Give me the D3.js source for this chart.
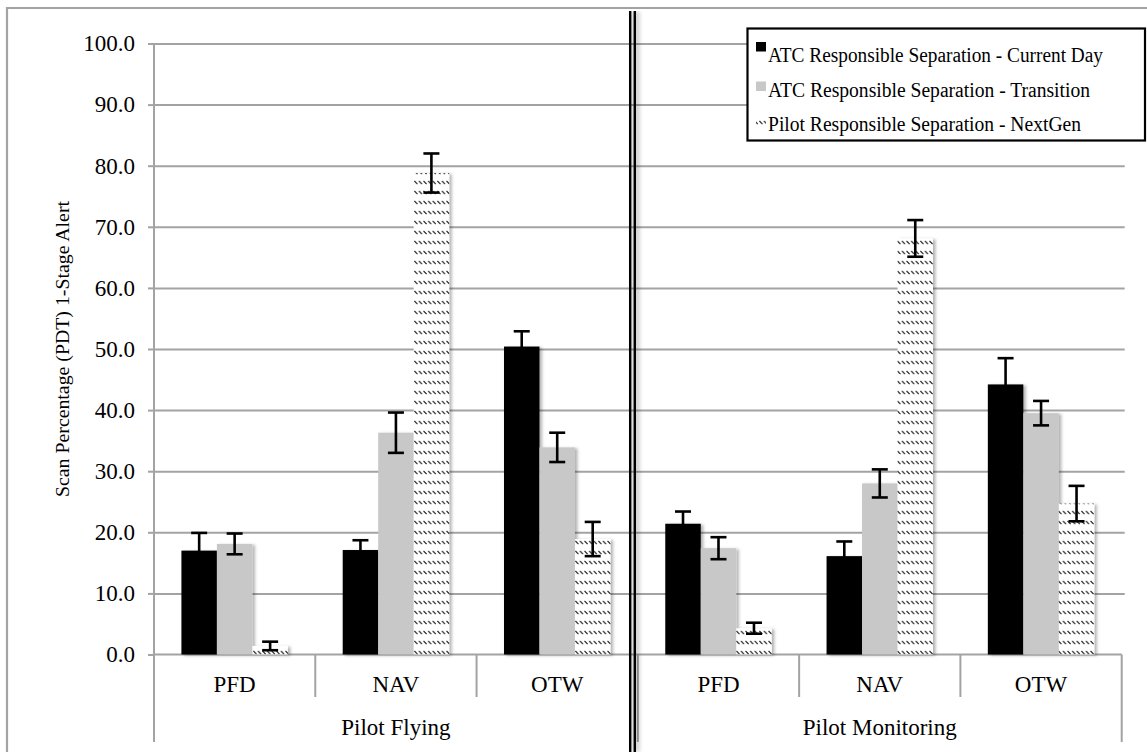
<!DOCTYPE html>
<html>
<head>
<meta charset="utf-8">
<script src="https://cdn.jsdelivr.net/npm/d3@7/dist/d3.min.js"></script>
<style>
  html, body { margin: 0; padding: 0; background: #fff; }
  svg { display: block; }
  svg text { font-family: "Liberation Serif", Tinos, "Times New Roman", "DejaVu Serif", serif !important; fill: #000; }
</style>
</head>
<body>
<svg id="chart" width="1147" height="752" font-family="Liberation Serif, Times New Roman, serif"></svg>
<script>
// Scan percentage per display, by crew role and separation condition
const groups = ["Pilot Flying", "Pilot Monitoring"];
const displays = ["PFD", "NAV", "OTW"];
const seriesNames = [
  "ATC Responsible Separation - Current Day",
  "ATC Responsible Separation - Transition",
  "Pilot Responsible Separation - NextGen"
];
// values in order: PF-PFD, PF-NAV, PF-OTW, PM-PFD, PM-NAV, PM-OTW
const currentDay    = [17.0, 17.1, 50.4, 21.4, 16.1, 44.2];
const transition    = [18.1, 36.3, 33.9, 17.4, 28.0, 39.5];
const nextGen       = [1.4, 78.8, 18.9, 4.3, 68.1, 24.7];
const currentDayErr = [2.9, 1.6, 2.5, 2.0, 2.4, 4.3];
const transitionErr = [1.7, 3.3, 2.4, 1.8, 2.3, 2.0];
const nextGenErr    = [0.7, 3.2, 2.8, 0.9, 3.0, 2.9];
const yTicks = [0, 10, 20, 30, 40, 50, 60, 70, 80, 90, 100];
const yTitle = "Scan Percentage (PDT) 1-Stage Alert";

const seriesValues = [currentDay, transition, nextGen];
const seriesErrors = [currentDayErr, transitionErr, nextGenErr];
const seriesKeys = ["cd", "tr", "ng"];
const serif = "Liberation Serif, Tinos, Times New Roman, serif";

const cells = [];
groups.forEach((g, gi) => displays.forEach((d, di) => cells.push({ group: g, display: d, key: gi + "-" + d })));

const svg = d3.select("#chart");
const defs = svg.append("defs");

// hatch fill: rows of short backslash dashes
const pat = defs.append("pattern")
  .attr("id", "hatch").attr("patternUnits", "userSpaceOnUse")
  .attr("width", 4.6).attr("height", 10);
pat.append("rect").attr("width", 4.6).attr("height", 10).attr("fill", "#fff");
pat.append("line").attr("x1", 0.4).attr("y1", 1).attr("x2", 3.4).attr("y2", 4.2)
  .attr("stroke", "#222").attr("stroke-width", 1.1);

const shadow = defs.append("filter").attr("id", "shadow")
  .attr("x", "-20%").attr("y", "-5%").attr("width", "150%").attr("height", "115%");
shadow.append("feDropShadow").attr("dx", 2.5).attr("dy", 1).attr("stdDeviation", 1.6)
  .attr("flood-color", "#000").attr("flood-opacity", 0.3);

const lineShadow = defs.append("filter").attr("id", "lshadow")
  .attr("x", "-200%").attr("y", "0%").attr("width", "500%").attr("height", "100%");
lineShadow.append("feDropShadow").attr("dx", 3).attr("dy", 0).attr("stdDeviation", 2)
  .attr("flood-color", "#000").attr("flood-opacity", 0.3);

const left = 154, right = 1121.7, axisBottom = 742;
const x = d3.scaleBand().domain(cells.map(c => c.key)).range([left, right]).padding(0);
const bw = x.bandwidth();
const xs = d3.scaleBand().domain(seriesKeys).range([bw * 0.17, bw * 0.83]).padding(0);
const y = d3.scaleLinear().domain([0, 100]).range([654.5, 43.5]);

const grey = "#a3a3a3";

// outer frame
svg.append("path").attr("d", `M7,752 V8 H1147`).attr("fill", "none")
  .attr("stroke", grey).attr("stroke-width", 2.2);

// gridlines
svg.append("g").attr("class", "grid")
  .attr("transform", `translate(${left},0)`)
  .call(d3.axisLeft(y).tickValues(yTicks.slice(1)).tickSize(-(right + 3 - left)).tickFormat(""))
  .call(g => g.select(".domain").remove())
  .call(g => g.selectAll("line").attr("stroke", grey).attr("stroke-width", 2));

// y axis
const yAxis = svg.append("g")
  .attr("transform", `translate(${left},0)`)
  .call(d3.axisLeft(y).tickValues(yTicks).tickFormat(d3.format(".1f")).tickSizeOuter(0).tickSize(6).tickPadding(13))
  .call(g => g.select(".domain").remove())
  .attr("font-family", serif).attr("font-size", 23);
yAxis.selectAll("line").attr("stroke", grey).attr("stroke-width", 2);
yAxis.selectAll("text").attr("font-size", 23).attr("font-family", serif).attr("fill", "#000");
svg.append("line").attr("x1", left).attr("x2", left).attr("y1", y(100)).attr("y2", axisBottom)
  .attr("stroke", grey).attr("stroke-width", 2);

// category axis
svg.append("line").attr("x1", left).attr("x2", right).attr("y1", y(0)).attr("y2", y(0))
  .attr("stroke", grey).attr("stroke-width", 2);
cells.forEach((c, i) => {
  const xr = x(c.key) + bw;
  const isGroupEnd = (i + 1) % displays.length === 0;
  svg.append("line").attr("x1", xr).attr("x2", xr).attr("y1", y(0))
    .attr("y2", isGroupEnd ? axisBottom : 697)
    .attr("stroke", grey).attr("stroke-width", 2);
  svg.append("text").attr("x", x(c.key) + bw / 2).attr("y", 691.5)
    .attr("text-anchor", "middle").attr("font-size", 23).attr("font-family", serif).text(c.display);
});
groups.forEach((g, gi) => {
  const first = x(gi + "-" + displays[0]);
  const last = x(gi + "-" + displays[displays.length - 1]) + bw;
  svg.append("text").attr("x", (first + last) / 2).attr("y", 735)
    .attr("text-anchor", "middle").attr("font-size", 23).attr("font-family", serif).text(g);
});

// bars
const fills = ["#000", "#c8c8c8", "url(#hatch)"];
seriesKeys.forEach((k, si) => {
  svg.append("g").attr("filter", "url(#shadow)")
    .selectAll("rect").data(cells).join("rect")
    .attr("x", c => x(c.key) + xs(k))
    .attr("width", xs.bandwidth())
    .attr("y", (c, i) => y(seriesValues[si][i]))
    .attr("height", (c, i) => y(0) - y(seriesValues[si][i]))
    .attr("fill", fills[si]);
});

// error bars
seriesKeys.forEach((k, si) => {
  const g = svg.append("g").attr("stroke", "#000").attr("stroke-width", 2.6);
  cells.forEach((c, i) => {
    const cx = x(c.key) + xs(k) + xs.bandwidth() / 2;
    const v = seriesValues[si][i], e = seriesErrors[si][i];
    const top = y(v + e), bot = y(Math.max(0, v - e));
    g.append("line").attr("x1", cx).attr("x2", cx).attr("y1", top).attr("y2", bot);
    g.append("line").attr("x1", cx - 8).attr("x2", cx + 8).attr("y1", top).attr("y2", top);
    g.append("line").attr("x1", cx - 8).attr("x2", cx + 8).attr("y1", bot).attr("y2", bot);
  });
});

// double divider between crew roles
const div = svg.append("g").attr("filter", "url(#lshadow)");
[630.2, 634.8].forEach(px => {
  div.append("line").attr("x1", px).attr("x2", px).attr("y1", 11).attr("y2", 752)
    .attr("stroke", "#000").attr("stroke-width", 2.4);
});

// y title
svg.append("text")
  .attr("transform", `translate(69,349) rotate(-90)`)
  .attr("text-anchor", "middle").attr("font-size", 18).attr("font-family", serif)
  .attr("textLength", 296).attr("lengthAdjust", "spacingAndGlyphs")
  .text(yTitle);

// legend
const lg = svg.append("g");
lg.append("rect").attr("x", 747.5).attr("y", 28.5).attr("width", 397.5).attr("height", 112)
  .attr("fill", "#fff").attr("stroke", "#000").attr("stroke-width", 2.2);
const legendRows = [
  { y: 62, swY: 42, w: 335 },
  { y: 97, swY: 81.5, w: 322 },
  { y: 131, swY: 117, w: 313 }
];
seriesNames.forEach((name, i) => {
  const r = legendRows[i];
  lg.append("rect").attr("x", 756).attr("y", r.swY).attr("width", 10).attr("height", 9.5)
    .attr("fill", fills[i]);
  lg.append("text").attr("x", 768).attr("y", r.y).attr("font-size", 20).attr("font-family", serif)
    .attr("textLength", r.w).attr("lengthAdjust", "spacingAndGlyphs")
    .text(name);
});
</script>
</body>
</html>
